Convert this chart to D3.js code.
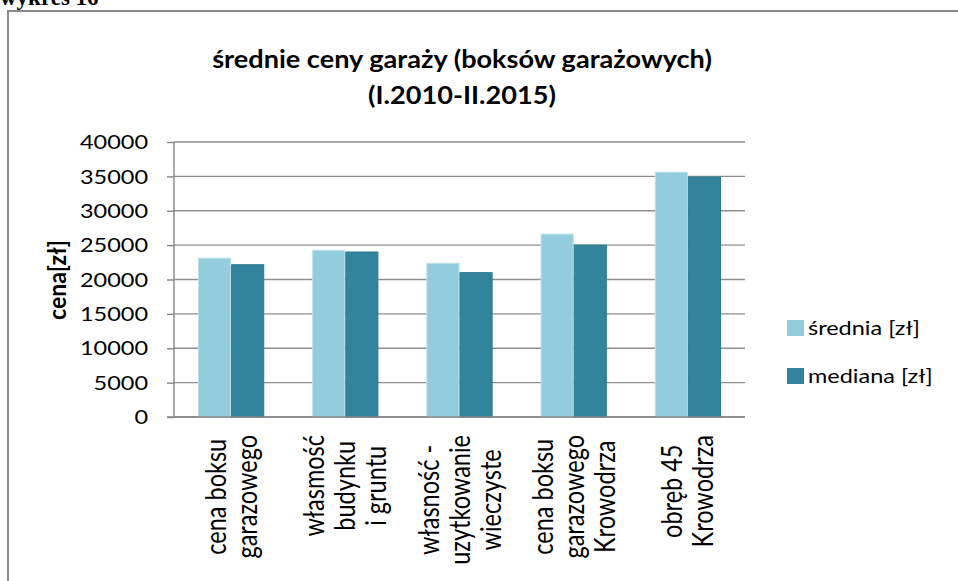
<!DOCTYPE html>
<html>
<head>
<meta charset="utf-8">
<script src="https://cdn.jsdelivr.net/npm/d3@7"></script>
<style>
  body { margin: 0; background: #fff; }
  svg { display: block; }
</style>
</head>
<body>
<div id="chart"></div>
<script>
// data
var categories = [
    ["cena boksu", "garazowego"],
    ["własmość", "budynku", "i gruntu"],
    ["własność -", "uzytkowanie", "wieczyste"],
    ["cena boksu", "garazowego", "Krowodrza"],
    ["obręb 45", "Krowodrza"]
];
var seriesNames = ["średnia [zł]", "mediana [zł]"];
var srednia = [23100, 24250, 22350, 26600, 35600];
var mediana = [22150, 24000, 21000, 25000, 34900];
var yTicks = [0, 5000, 10000, 15000, 20000, 25000, 30000, 35000, 40000];
var titleLines = ["średnie ceny garaży (boksów garażowych)", "(I.2010-II.2015)"];
var yLabel = "cena[zł]";
var heading = "wykres 16";

// settings for window
var w = 958, h = 581;
var SX = 1.27;            // the picture is stretched sideways, text follows it
var plotL = 174, plotR = 745, plotT = 142, plotB = 417;
var colors = ["#93cddd", "#31849b"];
var strokes = ["#b9e0ea", "#2c7a8f"];
var font = "Lato, 'Open Sans', sans-serif";

var svg = d3.select("#chart").append("svg").attr("width", w).attr("height", h);

function place(sel, x, y, rot, sx) {
    sel.attr("transform", "translate(" + x + "," + y + ") scale(" + (sx || SX) + ",1)" + (rot ? " rotate(-90)" : ""));
    return sel;
}

// scales
var xScale = d3.scaleBand().domain(d3.range(categories.length)).range([plotL, plotR]).paddingInner(0.42).paddingOuter(0.21);
var sScale = d3.scaleBand().domain([0, 1]).range([0, xScale.bandwidth()]);
var yScale = d3.scaleLinear().domain([0, 40000]).range([plotB, plotT]);

// frame and heading (the page heading is cut by the top edge, as in the scan)
svg.append("path").attr("d", "M8," + h + "V11H" + w).attr("fill", "none").attr("stroke", "#8a8a8a").attr("stroke-width", 2);
svg.append("text").attr("x", 0).attr("y", 5).style("font-family", "'Liberation Serif', serif").style("font-weight", "bold").style("font-size", "23px").text(heading);

// title
titleLines.forEach(function(t, i) {
    place(svg.append("text"), 462, 68 + i * 36, false, 1.13).attr("text-anchor", "middle").style("font-family", font).style("font-weight", "bold").style("font-size", "24px").text(t);
});

// gridlines
svg.append("g").selectAll("line").data(yTicks).enter().append("line")
    .attr("x1", plotL).attr("x2", plotR).attr("y1", function(d) { return yScale(d); }).attr("y2", function(d) { return yScale(d); })
    .attr("stroke", "#8e8e8e").attr("stroke-width", 1.4);

// bars
var series = [srednia, mediana];
series.forEach(function(vals, s) {
    svg.append("g").selectAll("rect").data(vals).enter().append("rect")
        .attr("x", function(d, i) { return xScale(i) + sScale(s) + 0.5; })
        .attr("y", function(d) { return yScale(d); })
        .attr("width", sScale.bandwidth() - 1)
        .attr("height", function(d) { return plotB - yScale(d); })
        .attr("fill", colors[s]).attr("stroke", strokes[s]).attr("stroke-width", 1);
});

// y axis
var yAxis = d3.axisLeft().scale(yScale).tickValues(yTicks).tickSize(7).tickFormat(d3.format("d"));
var gy = svg.append("g").attr("class", "y axis").attr("transform", "translate(" + plotL + ",0)").call(yAxis);
gy.select(".domain").attr("stroke", "#868686").attr("stroke-width", 1.4).attr("d", "M0," + plotT + "V" + plotB);
gy.selectAll(".tick line").attr("stroke", "#868686").attr("stroke-width", 1.4);
gy.selectAll(".tick text").attr("x", -26 / SX).attr("dy", "0.36em").attr("transform", "scale(" + SX + ",1)")
    .attr("fill", "#000").style("font-family", font).style("font-size", "18.5px");

// x axis line
svg.append("line").attr("x1", plotL - 7).attr("x2", plotR).attr("y1", plotB).attr("y2", plotB).attr("stroke", "#868686").attr("stroke-width", 1.4);

// category labels, rotated, block top at y=435, lines centred in the block
categories.forEach(function(lines, c) {
    var cx = xScale(c) + xScale.bandwidth() / 2;
    var g = svg.append("g");
    var texts = lines.map(function(t, i) {
        return g.append("text").attr("text-anchor", "middle").style("font-family", font).style("font-size", "23.5px").text(t);
    });
    var maxLen = d3.max(texts, function(t) { return t.node().getComputedTextLength(); });
    texts.forEach(function(t, i) {
        place(t, cx + 10 + (i - (lines.length - 1) / 2) * 31, 435 + maxLen / 2, true);
    });
});

// axis label
place(svg.append("text"), 66, 280, true, 1.05).attr("text-anchor", "middle").style("font-family", font).style("font-weight", "bold").style("font-size", "23px").text(yLabel);

// legend
seriesNames.forEach(function(name, s) {
    var y = 328 + s * 48;
    svg.append("rect").attr("x", 787).attr("y", y - 8).attr("width", 17).attr("height", 16).attr("fill", colors[s]);
    place(svg.append("text"), 808, y + 7).style("font-family", font).style("font-size", "18.5px").text(name);
});
</script>
</body>
</html>
